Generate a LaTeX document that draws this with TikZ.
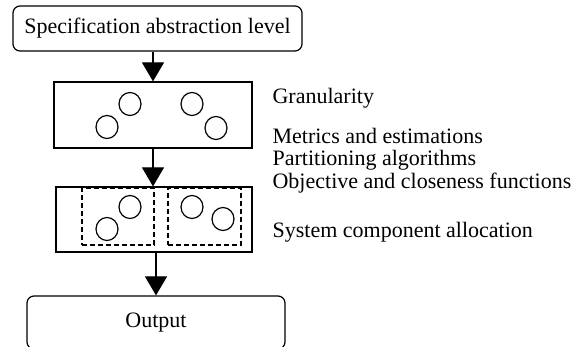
\documentclass[tikz,border=0pt]{standalone}
\usepackage{fontspec}
\setmainfont{Liberation Serif}
\usetikzlibrary{arrows.meta,positioning,shapes.geometric}
\tikzstyle{level} = [rectangle, draw, rounded corners=7pt, inner sep=0pt]
\tikzstyle{stage} = [rectangle, draw, inner sep=0pt]
\tikzstyle{part} = [rectangle, draw, dash pattern=on 5pt off 3pt, inner sep=0pt]
\tikzstyle{obj} = [ellipse, draw, inner sep=0pt, minimum width=22pt, minimum height=23pt]
\tikzstyle{note} = [anchor=west, inner sep=0pt, align=left]

\begin{document}
\begin{tikzpicture}[x=1pt,y=-1pt,>={Triangle[length=19pt,width=22pt]},
                    line width=1.2pt,font=\fontsize{22}{22.5}\selectfont]
  \useasboundingbox (0,0) rectangle (587,347);
  \node[level,minimum width=289pt,minimum height=45pt] (spec) at (157.5,28.5) {Specification abstraction level};
  \node[stage,minimum width=198pt,minimum height=66pt] (gran) at (153,115) {};
  \node[stage,minimum width=196pt,minimum height=65pt] (alloc) at (154,219.5) {};
  \node[level,minimum width=258pt,minimum height=53pt] (out) at (156,322.5) {Output};

  % granularity objects
  \node[obj] (g1) at (130,104) {};
  \node[obj] (g2) at (192,104) {};
  \node[obj] (g3) at (107,127) {};
  \node[obj] (g4) at (216,128) {};

  % allocated partitions
  \node[part,minimum width=72pt,minimum height=57pt] (p1) at (118,216.5) {};
  \node[part,minimum width=73pt,minimum height=57pt] (p2) at (204.5,216.5) {};
  \node[obj] (a1) at (130,207) {};
  \node[obj] (a2) at (107,229) {};
  \node[obj] (a3) at (192,207) {};
  \node[obj] (a4) at (223,219) {};

  \node[note] (t1) at (272,98) {Granularity};
  \node[note] (t2) at (272,160.5) {Metrics and estimations\\Partitioning algorithms\\Objective and closeness functions};
  \node[note] (t3) at (272,232) {System component allocation};

  \draw[->] (spec.south -| gran.north) -- (gran.north);
  \draw[->] (gran.south) -- (gran.south |- alloc.north);
  \draw[->] (alloc.south -| out.north) -- (out.north);
\end{tikzpicture}
\end{document}
